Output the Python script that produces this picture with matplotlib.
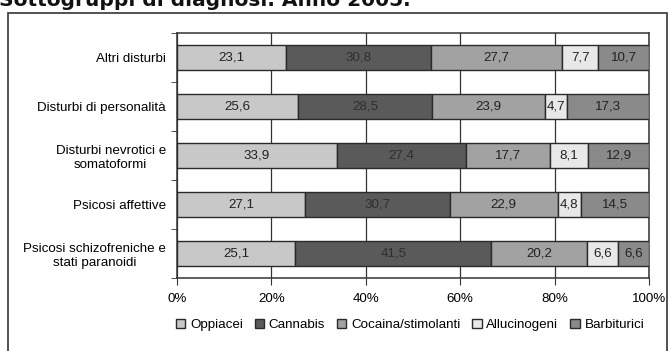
import matplotlib.pyplot as plt
import numpy as np
from matplotlib.patches import Rectangle

categories = ['Altri disturbi', 'Disturbi di personalità', 'Disturbi nevrotici e\nsomatoformi',
              'Psicosi affettive', 'Psicosi schizofreniche e\nstati paranoidi']
substances = ['Oppiacei', 'Cannabis', 'Cocaina/stimolanti', 'Allucinogeni', 'Barbiturici']
values = np.array([
    [23.1, 30.8, 27.7, 7.7, 10.7],
    [25.6, 28.5, 23.9, 4.7, 17.3],
    [33.9, 27.4, 17.7, 8.1, 12.9],
    [27.1, 30.7, 22.9, 4.8, 14.5],
    [25.1, 41.5, 20.2, 6.6, 6.6],
])
xticks = [0, 20, 40, 60, 80, 100]

colors = ['#c8c8c8', '#5a5a5a', '#a2a2a2', '#e8e8e8', '#8a8a8a']
text_colors = ['#222222', '#2e2e2e', '#222222', '#222222', '#222222']

plt.rcParams['font.family'] = ['Liberation Sans', 'DejaVu Sans']
fs = 9.6

fig = plt.figure(figsize=(6.71, 3.51), dpi=100)

# outer frame of the figure box
fig.patches.append(Rectangle((8 / 671, -0.1), 659 / 671, 1.1 - 13 / 351, transform=fig.transFigure,
                             fill=False, edgecolor='#444444', linewidth=1.3))

# title, partly cut at the top edge
fig.text(-0.002, 1 - 6.5 / 351, 'Sottogruppi di diagnosi. Anno 2005.', family='DejaVu Sans',
         fontsize=14.5, fontweight='bold', color='#111111', ha='left', va='baseline')

ax = fig.add_axes([177 / 671, 73 / 351, 472 / 671, 245 / 351])

y = np.arange(len(categories))
left = np.zeros(len(categories))
for j, name in enumerate(substances):
    ax.barh(y, values[:, j], left=left, height=0.51, color=colors[j],
            edgecolor='#2a2a2a', linewidth=1.0, label=name, zorder=3)
    for i, v in enumerate(values[:, j]):
        ax.text(left[i] + v / 2, y[i], f'{v:.1f}'.replace('.', ','), ha='center', va='center',
                fontsize=fs, color=text_colors[j], zorder=4)
    left += values[:, j]

ax.set_xlim(0, 100)
ax.set_ylim(len(categories) - 0.5, -0.5)
ax.set_xticks(xticks)
ax.set_xticklabels([f'{t}%' for t in xticks], fontsize=fs)
ax.set_yticks(y)
ax.set_yticklabels(categories, fontsize=fs, linespacing=1.2)
ax.set_yticks(np.arange(len(categories) + 1) - 0.5, minor=True)
ax.tick_params(axis='y', which='major', length=0, pad=8)
ax.tick_params(axis='y', which='minor', length=4, color='#333333')
ax.tick_params(axis='x', length=5, color='#333333', pad=6)
for t in ax.get_yticklabels():
    t.set_horizontalalignment('right')
    t.set_multialignment('center')

ax.grid(axis='x', color='#333333', linewidth=0.9, zorder=0)
for s in ax.spines.values():
    s.set_color('#333333')
    s.set_linewidth(1.1)

fig.legend(loc='center', bbox_to_anchor=(410 / 671, 1 - 325 / 351), ncol=5, frameon=False,
           fontsize=fs, handlelength=0.7, handleheight=0.7, handletextpad=0.35, columnspacing=0.9)

fig.savefig('out.png', dpi=100)
